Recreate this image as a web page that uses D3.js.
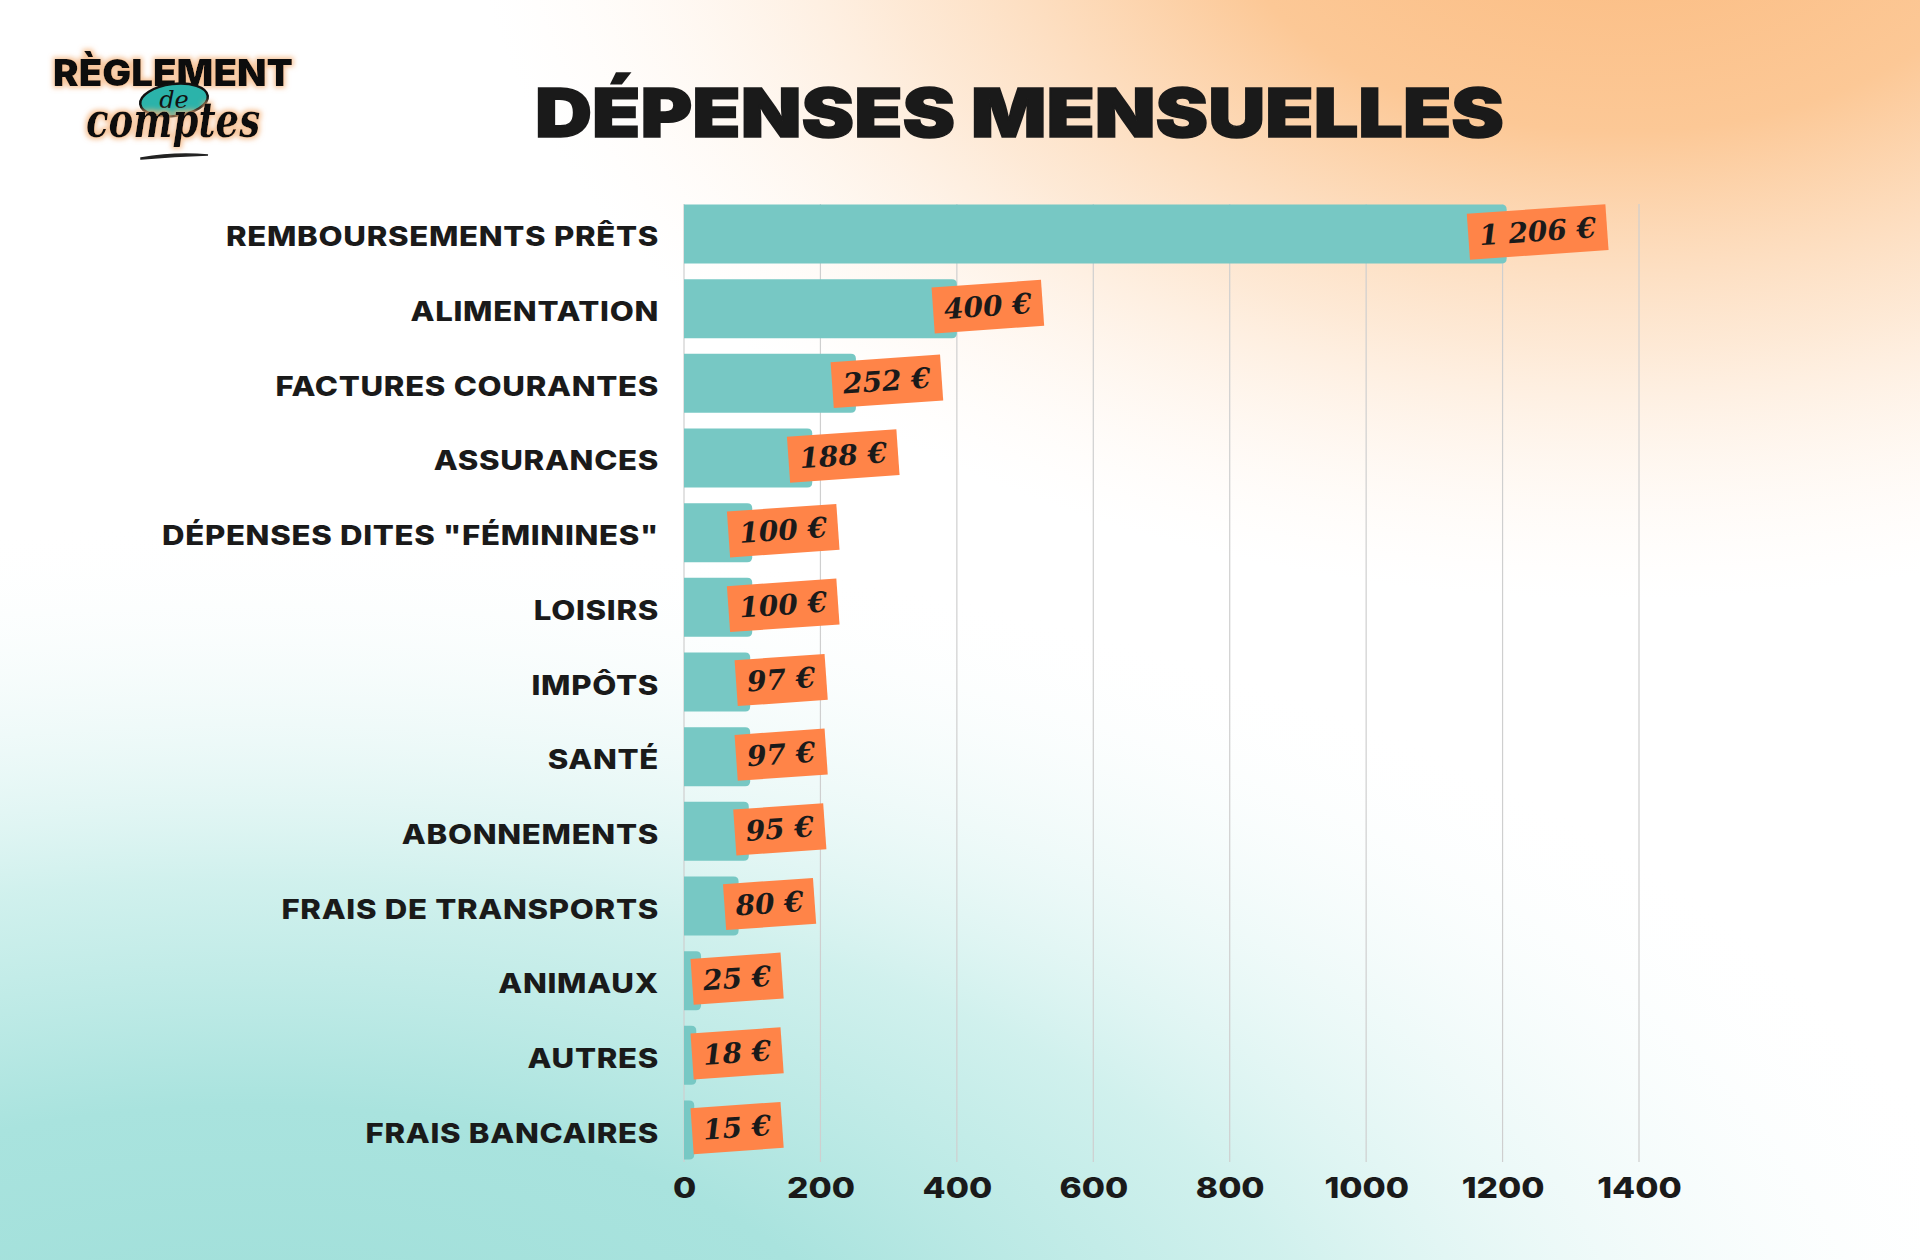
<!DOCTYPE html>
<html><head><meta charset="utf-8">
<script src="https://cdn.jsdelivr.net/npm/d3@7"></script>
<style>body{margin:0;overflow:hidden;background:#fff} svg{display:block}</style>
</head><body>
<svg id="chart" width="1920" height="1260"></svg>
<script>
// ---- DATA ----
const categories = ["REMBOURSEMENTS PRÊTS","ALIMENTATION","FACTURES COURANTES","ASSURANCES","DÉPENSES DITES \"FÉMININES\"","LOISIRS","IMPÔTS","SANTÉ","ABONNEMENTS","FRAIS DE TRANSPORTS","ANIMAUX","AUTRES","FRAIS BANCAIRES"];
const values = [1206,400,252,188,100,100,97,97,95,80,25,18,15];
const valueLabels = ["1 206 €","400 €","252 €","188 €","100 €","100 €","97 €","97 €","95 €","80 €","25 €","18 €","15 €"];
const tickValues = [0,200,400,600,800,1000,1200,1400];
const titleText = "DÉPENSES MENSUELLES";

const W = 1920, H = 1260;
const svg = d3.select("#chart");
const defs = svg.append("defs");

// background gradients
const og = defs.append("radialGradient").attr("id","orangeG").attr("gradientUnits","userSpaceOnUse")
  .attr("cx",0).attr("cy",0).attr("r",1)
  .attr("gradientTransform","translate(1620,-120) scale(1150,720)");
[[0,"#FBBA7E",1],[0.35,"#FCC896",1],[0.65,"#FDE2C8",0.75],[1,"#FFF6EE",0]].forEach(s=>og.append("stop").attr("offset",s[0]).attr("stop-color",s[1]).attr("stop-opacity",s[2]));
const tg = defs.append("radialGradient").attr("id","tealG").attr("gradientUnits","userSpaceOnUse")
  .attr("cx",0).attr("cy",0).attr("r",1)
  .attr("gradientTransform","translate(250,1420) scale(1800,900)");
[[0,"#9DDED8",1],[0.35,"#A9E3DE",1],[0.6,"#C8EEEA",0.85],[0.85,"#EAF8F7",0.35],[1,"#FFFFFF",0]].forEach(s=>tg.append("stop").attr("offset",s[0]).attr("stop-color",s[1]).attr("stop-opacity",s[2]));
svg.append("rect").attr("width",W).attr("height",H).attr("fill","#ffffff");
svg.append("rect").attr("width",W).attr("height",H).attr("fill","url(#tealG)");
svg.append("rect").attr("width",W).attr("height",H).attr("fill","url(#orangeG)");

// glow filter for logo
const glow = defs.append("filter").attr("id","glow").attr("x","-20%").attr("y","-50%").attr("width","140%").attr("height","200%");
glow.append("feMorphology").attr("in","SourceAlpha").attr("operator","dilate").attr("radius",2).attr("result","dil");
glow.append("feGaussianBlur").attr("in","dil").attr("stdDeviation",2.5).attr("result","bl");
glow.append("feFlood").attr("flood-color","#F4B27A").attr("flood-opacity",0.75).attr("result","col");
glow.append("feComposite").attr("in","col").attr("in2","bl").attr("operator","in").attr("result","sh");
const fm = glow.append("feMerge");
fm.append("feMergeNode").attr("in","sh");
fm.append("feMergeNode").attr("in","SourceGraphic");

// scales
const x = d3.scaleLinear().domain([0,1400]).range([684,1639]);
const y = d3.scaleBand().domain(categories).range([197,1167]).paddingInner(0.21).paddingOuter(0.1);
const gridTop = 204, gridBottom = 1162;

// grid
svg.append("g").selectAll("line").data(tickValues).join("line")
  .attr("x1",d=>x(d)).attr("x2",d=>x(d)).attr("y1",gridTop).attr("y2",gridBottom)
  .attr("stroke","#cfcfcf").attr("stroke-width",1.2);

// axis
const axis = d3.axisBottom(x).tickValues(tickValues).tickSize(0).tickPadding(0).tickFormat(d3.format("d"));
const ax = svg.append("g").attr("transform",`translate(0,${gridBottom+9})`).call(axis);
ax.select(".domain").remove();
ax.selectAll(".tick text").attr("font-family","Inter, Lato, sans-serif").attr("font-weight",800)
  .attr("font-size",28).attr("fill","#1a1a1a").attr("dy","0.95em")
  .attr("transform","scale(1.2,1)");

// bars with rounded right corners
const r = 5;
const x0 = x(0);
svg.append("g").selectAll("path").data(values).join("path")
  .attr("d",(d,i)=>{
    const yt = y(categories[i]), h = y.bandwidth(), xe = x(d);
    return `M${x0},${yt} H${xe-r} Q${xe},${yt} ${xe},${yt+r} V${yt+h-r} Q${xe},${yt+h} ${xe-r},${yt+h} H${x0} Z`;
  })
  .attr("fill","#77C8C4");

// category labels
svg.append("g").selectAll("text").data(categories).join("text")
  .attr("transform",d=>`translate(659,${y(d)+y.bandwidth()/2+12.5}) scale(1.155,1)`)
  .attr("text-anchor","end").attr("font-family","Inter, Lato, sans-serif").attr("font-weight",800)
  .attr("font-size",27).attr("letter-spacing","0.6").attr("fill","#1a1a1a").text(d=>d);

// value tags
const tags = svg.append("g").selectAll("g").data(values).join("g");
tags.each(function(d,i){
  const g = d3.select(this);
  const t = g.append("text").attr("font-family","DejaVu Serif, serif").attr("font-style","italic")
    .attr("font-weight",700).attr("font-size",28).attr("fill","#1a1a1a")
    .attr("text-anchor","middle").attr("dy","0.33em").text(valueLabels[i]);
  const tw = t.node().getComputedTextLength();
  const w = tw + 22, h = 46;
  let cx = x(d) + 31;
  if (cx - w/2 < x0 + 8) cx = x0 + 8 + w/2;
  const cy = y(categories[i]) + y.bandwidth()/2 - 2;
  g.insert("rect","text").attr("x",-w/2).attr("y",-h/2).attr("width",w).attr("height",h).attr("fill","#FF8448");
  g.attr("transform",`translate(${cx},${cy}) rotate(-4)`);
});

// title
svg.append("text").attr("x",535).attr("y",137).attr("font-family","Inter, Lato, sans-serif")
  .attr("font-weight",900).attr("font-size",67).attr("fill","#1a1a1a")
  .attr("stroke","#1a1a1a").attr("stroke-width",1.5)
  .attr("textLength",969).attr("lengthAdjust","spacingAndGlyphs").text(titleText);

// logo
const logo = svg.append("g");
logo.append("text").attr("x",53).attr("y",86).attr("font-family","Inter, Lato, sans-serif").attr("font-weight",900)
  .attr("font-size",37).attr("fill","#111").attr("filter","url(#glow)")
  .attr("textLength",240).attr("lengthAdjust","spacingAndGlyphs").text("RÈGLEMENT");
logo.append("ellipse").attr("cx",174).attr("cy",100).attr("rx",34).attr("ry",16)
  .attr("transform","rotate(-7,174,100)").attr("fill","#2BB3AA").attr("stroke","#111").attr("stroke-width",2.5);
logo.append("text").attr("x",174).attr("y",108).attr("text-anchor","middle").attr("font-family","DejaVu Serif, serif")
  .attr("font-style","italic").attr("font-size",24).attr("fill","#111").text("de");
logo.append("text").attr("x",86).attr("y",137).attr("font-family","DejaVu Serif, serif")
  .attr("font-style","italic").attr("font-weight",700).attr("font-size",48).attr("fill","#111").attr("filter","url(#glow)")
  .attr("textLength",174).attr("lengthAdjust","spacingAndGlyphs").text("comptes");
logo.append("path").attr("d","M141,158 Q175,152 208,155 Q175,156 141,159 Z").attr("fill","#222").attr("stroke","#222").attr("stroke-width",1.5);
</script>
</body></html>
